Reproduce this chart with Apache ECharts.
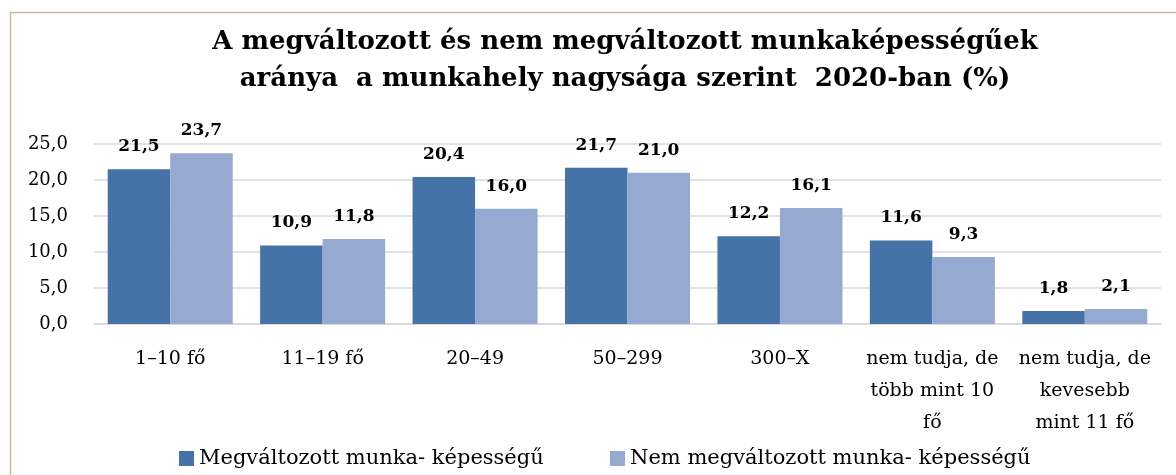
<!DOCTYPE html>
<html>
<head>
<meta charset="utf-8">
<style>
  html, body { margin: 0; padding: 0; background: #fff; }
  #chart { width: 1176px; height: 475px; }
</style>
<script src="https://cdn.jsdelivr.net/npm/echarts@6/dist/echarts.min.js"></script>
</head>
<body>
<div id="chart"></div>
<script>
  const FONT = "'Palatino Linotype', 'Book Antiqua', Palatino, 'DejaVu Serif', serif";

  // adatok
  const categories = [
    "1–10 fő",
    "11–19 fő",
    "20–49",
    "50–299",
    "300–X",
    "nem tudja, de\ntöbb mint 10\nfő",
    "nem tudja, de\nkevesebb\nmint 11 fő"
  ];
  const changedValues = [21.5, 10.9, 20.4, 21.7, 12.2, 11.6, 1.8];
  const unchangedValues = [23.7, 11.8, 16.0, 21.0, 16.1, 9.3, 2.1];
  const seriesNames = ["Megváltozott munka- képességű", "Nem megváltozott munka- képességű"];
  const colors = ["#4572A7", "#95A9D1"];

  const titleText = "A megváltozott és nem megváltozott munkaképességűek\naránya  a munkahely nagysága szerint  2020-ban (%)";

  const fmt = v => v.toFixed(1).replace(".", ",");

  function barSeries(name, data, color) {
    return {
      name: name,
      type: "bar",
      data: data,
      barGap: "0%",
      barCategoryGap: "18%",
      itemStyle: { color: color },
      label: {
        show: true,
        position: "top",
        distance: 14,
        formatter: p => fmt(p.value),
        fontFamily: FONT,
        fontWeight: "bold",
        fontSize: 17,
        color: "#000"
      }
    };
  }

  const chart = echarts.init(document.getElementById("chart"), null, { renderer: "canvas" });

  const legendBase = {
    top: 448,
    padding: 0,
    itemWidth: 15,
    itemHeight: 15,
    icon: "rect",
    textStyle: { fontFamily: FONT, fontSize: 21, color: "#000", lineHeight: 20 }
  };

  chart.setOption({
    animation: false,
    backgroundColor: "#fff",
    color: colors,
    textStyle: { fontFamily: FONT },
    title: {
      text: titleText,
      left: 625,
      textAlign: "center",
      top: 24,
      padding: 0,
      textStyle: {
        fontFamily: FONT,
        fontWeight: "bold",
        fontSize: 26,
        lineHeight: 37,
        color: "#000"
      }
    },
    graphic: [{
      type: "rect",
      silent: true,
      z: -1,
      shape: { x: 10.5, y: 12.5, width: 1300, height: 600 },
      style: { fill: "none", stroke: "#c8bc8f", lineWidth: 1.5 }
    }],
    legend: [
      Object.assign({ data: [seriesNames[0]], left: 179 }, legendBase),
      Object.assign({ data: [seriesNames[1]], left: 610 }, legendBase)
    ],
    grid: {
      left: 94,
      right: 15,
      top: 144,
      bottom: 151,
      containLabel: false
    },
    xAxis: {
      type: "category",
      data: categories,
      axisLine: { show: true, lineStyle: { color: "#d9d9d9", width: 1.5 } },
      axisTick: { show: false },
      axisLabel: {
        interval: 0,
        margin: 19,
        fontFamily: FONT,
        fontSize: 19,
        lineHeight: 32,
        color: "#000"
      }
    },
    yAxis: {
      type: "value",
      min: 0,
      max: 25,
      interval: 5,
      axisLine: { show: false },
      axisTick: { show: false },
      splitLine: { lineStyle: { color: "#d9d9d9", width: 1.5 } },
      axisLabel: {
        margin: 26,
        formatter: v => fmt(v),
        fontFamily: FONT,
        fontSize: 18,
        color: "#000"
      }
    },
    series: [
      barSeries(seriesNames[0], changedValues, colors[0]),
      barSeries(seriesNames[1], unchangedValues, colors[1])
    ]
  });
</script>
</body>
</html>
